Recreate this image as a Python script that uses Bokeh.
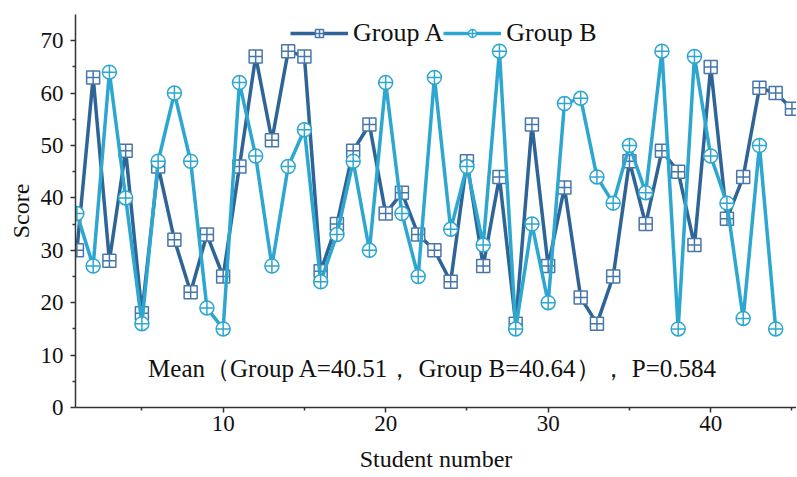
from bokeh.plotting import figure
from bokeh.models import Range1d, FixedTicker, Label
from bokeh.embed import file_html
from bokeh.resources import INLINE

students_a = list(range(1, 46))
group_a = [30, 63, 28, 49, 18, 46, 32, 22, 33, 25, 46, 67, 51, 68, 67, 26, 35, 49, 54, 37,
           41, 33, 30, 24, 47, 27, 44, 16, 54, 27, 42, 21, 16, 25, 47, 35, 49, 45, 31, 65,
           36, 44, 61, 60, 57]
students_b = list(range(1, 45))
group_b = [37, 27, 64, 40, 16, 47, 60, 47, 19, 15, 62, 48, 27, 46, 53, 24, 33, 47, 30, 62,
           37, 25, 63, 34, 46, 31, 68, 15, 35, 20, 58, 59, 44, 39, 50, 41, 68, 15, 67, 48,
           39, 17, 50, 15]
x_ticks = [10, 20, 30, 40]
x_minor = [5, 15, 25, 35, 45]
y_ticks = [0, 10, 20, 30, 40, 50, 60, 70]
y_minor = [5, 15, 25, 35, 45, 55, 65]
annotation = "Mean（Group A=40.51， Group B=40.64）， P=0.584"

FONT = "Liberation Serif"
COL_A = "#2F6496"
COL_A_MK = "#4777AA"
COL_B = "#2EA7D0"

p = figure(width=796, height=477, output_backend="svg", toolbar_location=None,
           x_range=Range1d(0.914, 45.28), y_range=Range1d(0, 75),
           min_border_left=75, min_border_right=0, min_border_top=14, min_border_bottom=70)
p.outline_line_color = None
p.xgrid.visible = False
p.ygrid.visible = False

p.line(students_a, group_a, line_color=COL_A, line_width=3.5, legend_label="Group A")
p.scatter(students_a, group_a, marker="square_cross", size=13, line_color=COL_A_MK,
          line_width=1.5, fill_color="white", legend_label="Group A")
p.line(students_b, group_b, line_color=COL_B, line_width=3.5, legend_label="Group B")
p.scatter(students_b, group_b, marker="circle_cross", size=14, line_color=COL_B,
          line_width=1.5, fill_color="white", legend_label="Group B")

for ax in (p.xaxis[0], p.yaxis[0]):
    ax.axis_line_color = "#333333"
    ax.axis_line_width = 1.5
    ax.major_tick_line_color = "#333333"
    ax.minor_tick_line_color = "#333333"
    ax.major_tick_line_width = 1.5
    ax.minor_tick_line_width = 1.5
    ax.major_tick_out = 5
    ax.major_tick_in = 0
    ax.minor_tick_out = 3
    ax.minor_tick_in = 0
    ax.major_label_text_font = FONT
    ax.major_label_text_font_size = "23px"
    ax.major_label_text_color = "#111111"
    ax.axis_label_text_font = FONT
    ax.axis_label_text_font_size = "24px"
    ax.axis_label_text_font_style = "normal"
    ax.axis_label_text_color = "#111111"

p.xaxis[0].ticker = FixedTicker(ticks=x_ticks, minor_ticks=x_minor)
p.yaxis[0].ticker = FixedTicker(ticks=y_ticks, minor_ticks=y_minor)
p.xaxis[0].axis_label = "Student number"
p.yaxis[0].axis_label = "Score"
p.xaxis[0].major_label_standoff = 3
p.xaxis[0].axis_label_standoff = 12
p.yaxis[0].major_label_standoff = 7
p.yaxis[0].axis_label_standoff = 4

p.add_layout(Label(x=22.9, y=7.4, text=annotation, text_font=FONT,
                   text_font_size="25px", text_color="#111111",
                   text_align="center", text_baseline="middle"))

lg = p.legend[0]
lg.orientation = "horizontal"
lg.location = (215, 359)
lg.border_line_color = None
lg.background_fill_alpha = 0
lg.label_text_font = FONT
lg.label_text_font_size = "26px"
lg.label_text_color = "#111111"
lg.glyph_width = 58
lg.glyph_height = 20
lg.label_standoff = 5
lg.spacing = 0
lg.padding = 0
lg.margin = 0

open("out.html", "w").write(file_html(p, INLINE))
